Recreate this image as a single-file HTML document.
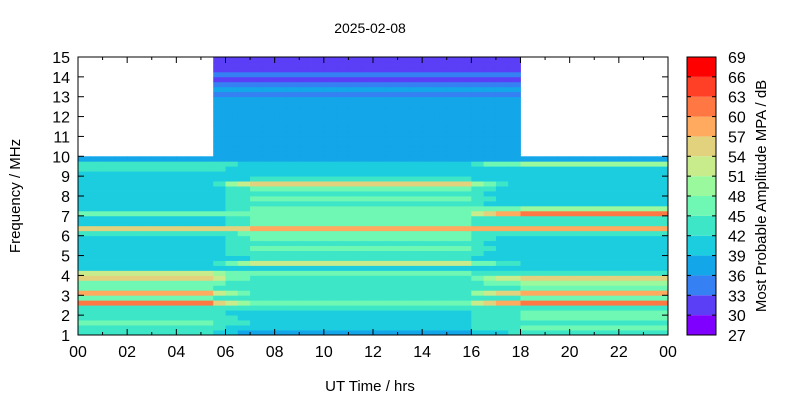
<!DOCTYPE html>
<html><head><meta charset="utf-8"><style>
body{margin:0;background:#fff;}
svg{display:block;font-family:"Liberation Sans",sans-serif;}
</style></head><body>
<svg id="chart" width="800" height="400" viewBox="0 0 800 400">
<text x="370" y="33" font-size="14" text-anchor="middle">2025-02-08</text>
<text x="370" y="391" font-size="15" text-anchor="middle">UT Time / hrs</text>
<text transform="translate(20,196) rotate(-90)" font-size="15" text-anchor="middle">Frequency / MHz</text>
<text transform="translate(766,196) rotate(-90)" font-size="15" text-anchor="middle">Most Probable Amplitude MPA / dB</text>
<g id="cells"></g>
<g id="axes"></g>
<g id="cbar"></g>
</svg>
<script>
// frequency rows start at 1 MHz in 0.25 MHz steps (56 rows to 15 MHz)
const freqStart = 1, freqStep = 0.25;
const nightProfile = [42,44,46,44,43,44,60,45,57,45,47,55,52,41,40,40,40,40,40,40,42,55,40,40,45,40,40,40,40,40,40,40,40,43,44,37,
 null,null,null,null,null,null,null,null,null,null,null,null,null,null,null,null,null,null,null,null];
const dayProfile = [37,40,41,41,41,42,45,42,43,42,42,43,45,41,52,42,44,45,44,45,46,57,46,46,46,45,44,45,44,46,55,42,40,41,41,37,
 37,37,38,37,37,38,37,38,37,37,37,36,35,36,34,30,33,32,32,31];
const eveProfile = [43,45,44,45,45,44,60,45,57,45,48,54,44,41,41,41,40,40,40,40,42,57,43,43,60,48,40,40,40,40,40,40,41,41,48,37,
 null,null,null,null,null,null,null,null,null,null,null,null,null,null,null,null,null,null,null,null];
// per 30-minute column weights (48 columns)
const dayWeight = [0,0,0,0,0,0,0,0,0,0,0,0.3,0.6,0.8,1,1,1,1,1,1,1,1,1,1,1,1,1,1,1,1,1,1,0.6,0.4,0.2,0.1,0,0,0,0,0,0,0,0,0,0,0,0];
const eveWeight = [0,0,0,0,0,0,0,0,0,0,0,0,0,0,0,0,0,0,0,0,0,0,0,0,0,0,0,0,0,0,0,0,0.4,0.6,0.8,0.9,1,1,1,1,1,1,1,1,1,1,1,1];
// upper band (>10 MHz) present from 05:30 to 18:00
const upperStartHr = 5.5, upperEndHr = 18;
const cbTicks = [27,30,33,36,39,42,45,48,51,54,57,60,63,66,69];
const xTickLabels = ["00","02","04","06","08","10","12","14","16","18","20","22","00"];
const bandColors = ["#8000ff","#5a3ff7","#3580f2","#13a6e8","#1ccde0","#3ee6c8","#6ef8b4","#9af99c","#c8ec8c","#e2d27d","#ffaa5e","#ff7844","#ff4026","#ff0000"];

const NS="http://www.w3.org/2000/svg";
const X0=78,X1=668,Y0=57,Y1=335;
const xs=h=>X0+(h/24)*(X1-X0);
const ys=f=>Y1-(f-1)/14*(Y1-Y0);
const cbY=v=>Y1-(v-27)/42*(Y1-Y0);
function color(v){let i=Math.floor((v-27)/3);i=Math.max(0,Math.min(13,i));return bandColors[i];}
function mk(tag,attrs,parent){const e=document.createElementNS(NS,tag);for(const k in attrs)e.setAttribute(k,attrs[k]);parent.appendChild(e);return e;}

const cells=document.getElementById('cells');
const nCols=dayWeight.length;
for(let c=0;c<nCols;c++){
  const h0=c*24/nCols,h1=(c+1)*24/nCols;
  for(let r=0;r<dayProfile.length;r++){
    const f0=freqStart+r*freqStep,f1=f0+freqStep;
    let v;
    if(f0>=10){
      if(h0<upperStartHr||h0>=upperEndHr) continue;
      v=dayProfile[r];
    } else {
      const wd=dayWeight[c],we=eveWeight[c],wn=Math.max(0,1-wd-we);
      v=nightProfile[r]*wn+dayProfile[r]*wd+eveProfile[r]*we;
    }
    const el=mk('rect',{x:xs(h0).toFixed(2),y:ys(f1).toFixed(2),width:(xs(h1)-xs(h0)+0.4).toFixed(2),height:(ys(f0)-ys(f1)+0.4).toFixed(2),fill:color(v)},cells);
    
    
  }
}

const axes=document.getElementById('axes');
const frame=mk('rect',{x:X0,y:Y0,width:X1-X0,height:Y1-Y0,fill:'none',stroke:'#000','stroke-width':1},axes);


for(let h=0;h<=24;h++){
  const x=xs(h),len=(h%2===0)?6:3;
  mk('line',{x1:x,y1:Y1,x2:x,y2:Y1-len,stroke:'#000'},axes);
  mk('line',{x1:x,y1:Y0,x2:x,y2:Y0+len,stroke:'#000'},axes);
}
xTickLabels.forEach((lab,i)=>{
  const t=mk('text',{x:xs(i*2),y:Y1+22,'font-size':16,'text-anchor':'middle'},axes);
  t.textContent=lab;
  
  
});
for(let f=1;f<=15;f++){
  const y=ys(f);
  mk('line',{x1:X0,y1:y,x2:X0+6,y2:y,stroke:'#000'},axes);
  mk('line',{x1:X1,y1:y,x2:X1-6,y2:y,stroke:'#000'},axes);
  const t=mk('text',{x:X0-8,y:y+6,'font-size':16,'text-anchor':'end'},axes);
  t.textContent=f;
  
  
}

const cbar=document.getElementById('cbar');
const CX0=687,CX1=716;
for(let i=0;i<bandColors.length;i++){
  const el=mk('rect',{x:CX0,y:cbY(27+(i+1)*3),width:CX1-CX0,height:cbY(27)-cbY(30),fill:bandColors[i]},cbar);
  
  
}
const cf=mk('rect',{x:CX0,y:Y0,width:CX1-CX0,height:Y1-Y0,fill:'none',stroke:'#000'},cbar);


cbTicks.forEach(v=>{
  const y=cbY(v);
  mk('line',{x1:CX0,y1:y,x2:CX0+4,y2:y,stroke:'#000'},cbar);
  mk('line',{x1:CX1,y1:y,x2:CX1-4,y2:y,stroke:'#000'},cbar);
  const t=mk('text',{x:728,y:y+6,'font-size':16},cbar);
  t.textContent=v;
  
  
});
</script>
</body></html>
